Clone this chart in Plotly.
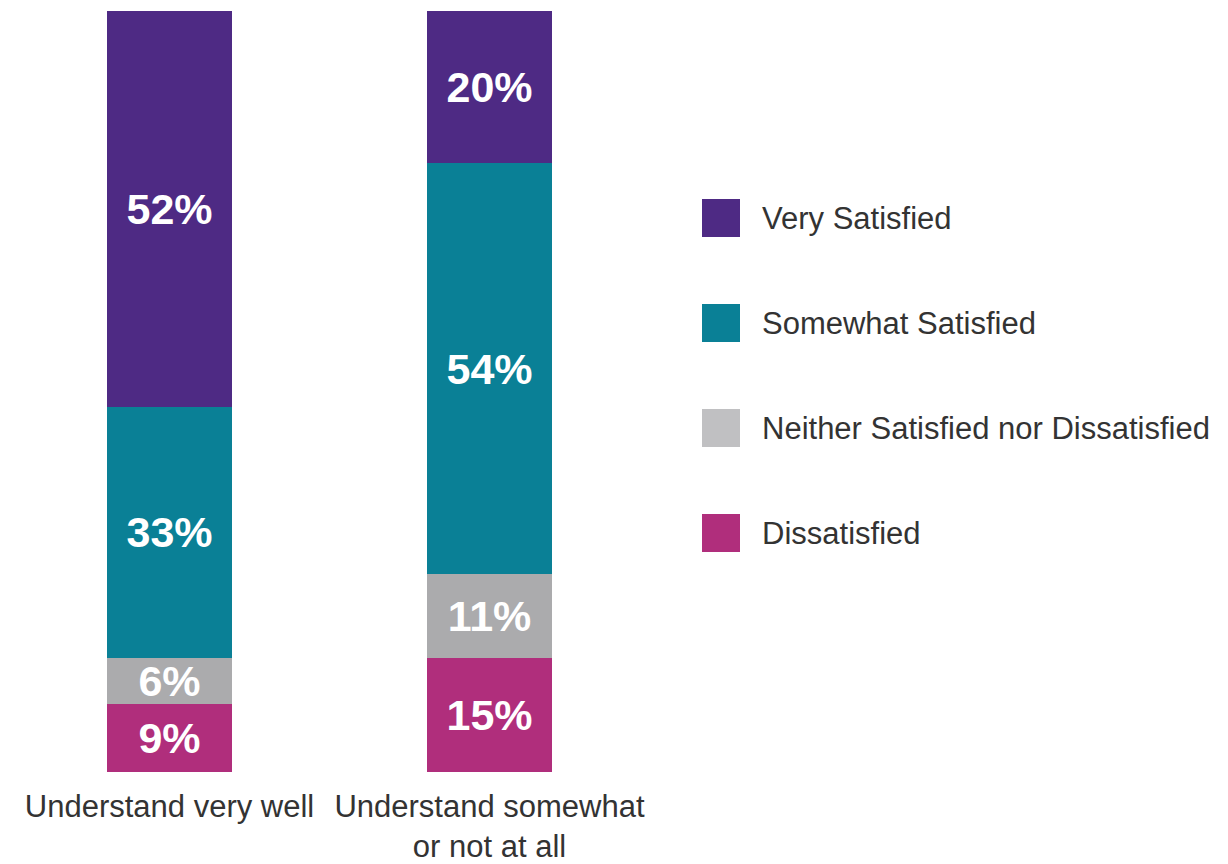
import plotly.graph_objects as go

categories = ["Understand very well", "Understand somewhat<br>or not at all"]
series_names = ["Dissatisfied", "Neither Satisfied nor Dissatisfied", "Somewhat Satisfied", "Very Satisfied"]
dissatisfied = [9, 15]
neither = [6, 11]
somewhat = [33, 54]
very = [52, 20]

bar_colors = ["#B02E7C", "#ABABAD", "#0A8096", "#4E2A84"]
legend_colors = ["#B02E7C", "#C0C0C2", "#0A8096", "#4E2A84"]

W, H = 1228, 864
fig = go.Figure()
for name, vals, col in zip(series_names, [dissatisfied, neither, somewhat, very], bar_colors):
    fig.add_trace(go.Bar(
        x=categories, y=vals, name=name, marker=dict(color=col, line=dict(width=0)),
        texttemplate="%{y}%", textposition="inside", insidetextanchor="middle",
        textangle=0, constraintext="none",
        textfont=dict(family="Liberation Sans, Arial, sans-serif", size=43, color="white", weight="bold"),
        showlegend=False, hoverinfo="skip",
    ))

# custom legend (large squares, wide spacing)
shapes = []
annotations = []
legend_order = list(range(len(series_names)))[::-1]
for i, idx in enumerate(legend_order):
    cy = 218 + i * 105
    shapes.append(dict(type="rect", xref="paper", yref="paper",
                       x0=702 / W, x1=740 / W, y0=1 - (cy + 19) / H, y1=1 - (cy - 19) / H,
                       fillcolor=legend_colors[idx], line=dict(width=0)))
    annotations.append(dict(xref="paper", yref="paper", x=760 / W, y=1 - cy / H,
                            text=series_names[idx], showarrow=False, xanchor="left", yanchor="middle",
                            font=dict(family="Liberation Sans, Arial, sans-serif", size=31, color="#333333")))

fig.update_layout(
    barmode="stack", bargap=1 - 125 / 320,
    width=W, height=H, margin=dict(l=0, r=0, t=0, b=0),
    paper_bgcolor="white", plot_bgcolor="white",
    xaxis=dict(domain=[9.5 / W, 649.5 / W], showgrid=False, showline=False, zeroline=False,
               ticks="", tickfont=dict(family="Liberation Sans, Arial, sans-serif", size=31, color="#333333"),
               automargin=False, ticklabelstandoff=13),
    yaxis=dict(domain=[(H - 772) / H, (H - 11) / H], range=[0, 100], visible=False, automargin=False),
    shapes=shapes, annotations=annotations,
    uniformtext=dict(mode=False),
)

fig.write_html("out.html")
